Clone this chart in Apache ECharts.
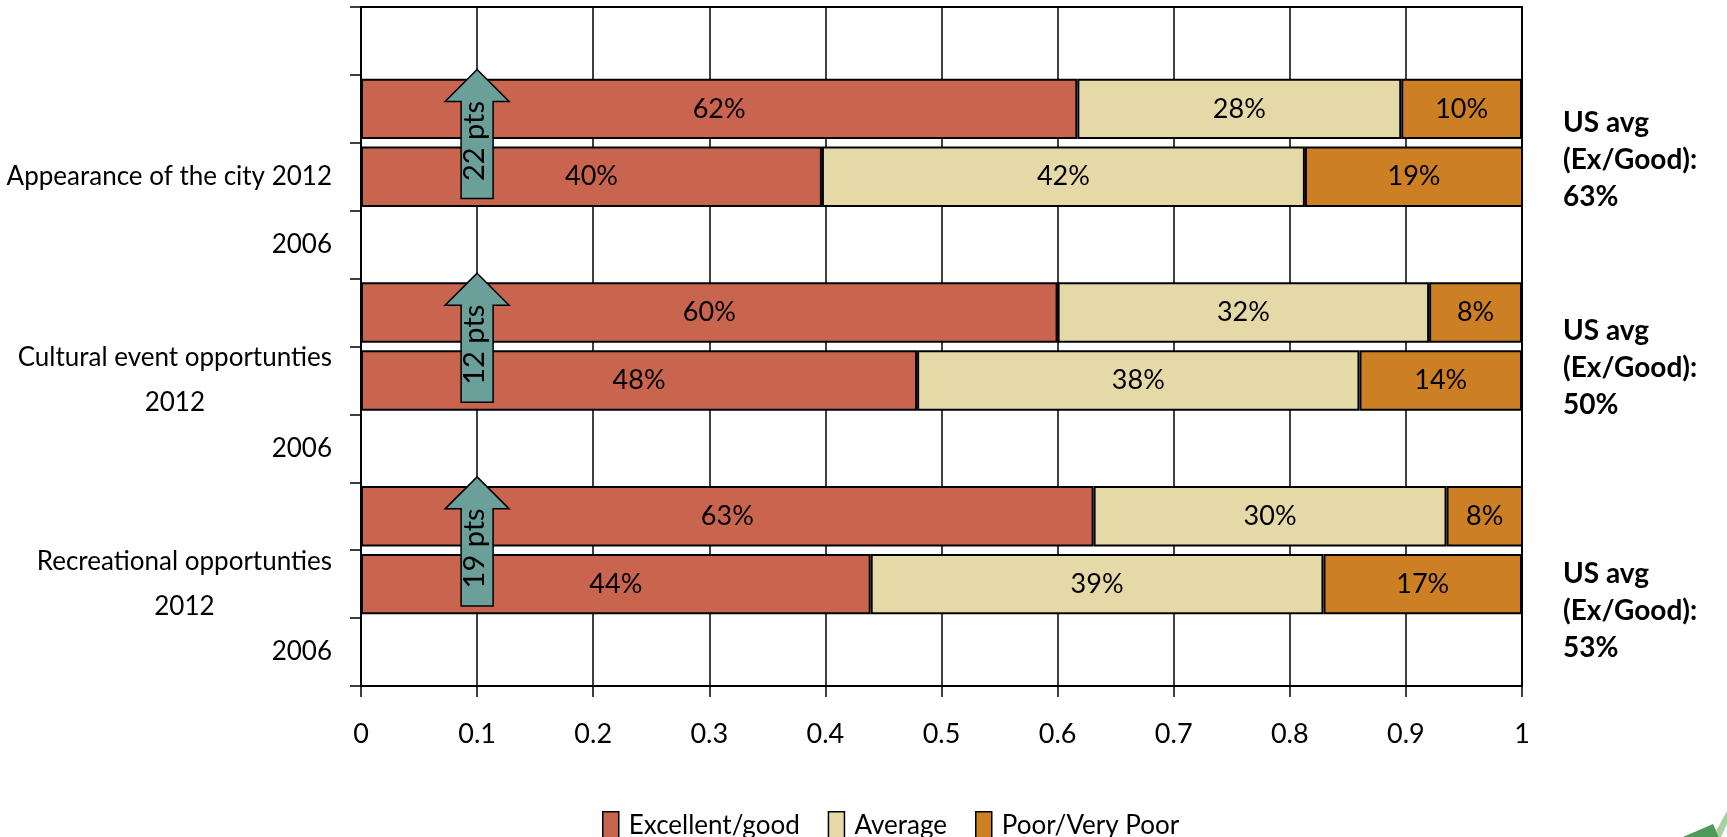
<!DOCTYPE html>
<html><head><meta charset="utf-8">
<script src="https://cdn.jsdelivr.net/npm/echarts@6/dist/echarts.min.js"></script>
<style>html,body{margin:0;padding:0;background:#fff}#c{width:1727px;height:837px}</style>
</head><body><div id="c"></div>
<script>
// Category slots on the vertical axis (top to bottom)
const categories = ['', '', 'Appearance of the city 2012', '2006', '', 'Cultural event opportunties\n2012', '2006', '', 'Recreational opportunties\n2012', '2006'];
// Which slot each bar sits in
const barSlots = [1, 2, 4, 5, 7, 8];
// Series values (share of responses)
const excellentGood = [0.617, 0.397, 0.600, 0.479, 0.631, 0.439];
const average       = [0.279, 0.416, 0.320, 0.381, 0.304, 0.390];
const poorVeryPoor  = [0.104, 0.188, 0.080, 0.140, 0.076, 0.171];
const seriesNames = ['Excellent/good', 'Average', 'Poor/Very Poor'];
// X axis ticks
const xTicks = [0, 0.1, 0.2, 0.3, 0.4, 0.5, 0.6, 0.7, 0.8, 0.9, 1];
// Change arrows: x position, slot of 2012 bar, slot of 2006 bar, label
const arrowX = [0.1, 0.1, 0.1];
const arrowTopSlot = [1, 4, 7];
const arrowBottomSlot = [2, 5, 8];
const arrowLabels = ['22 pts', '12 pts', '19 pts'];
// US averages
const usAvg = ['63%', '50%', '53%'];

const FONT = 'Lato, "Open Sans", sans-serif';
const colors = ['#C9644E', '#E6D9A8', '#CD8023'];

function toSlots(vals) {
  const arr = categories.map(() => '-');
  barSlots.forEach((s, i) => { arr[s] = vals[i]; });
  return arr;
}

const chart = echarts.init(document.getElementById('c'), null, {renderer: 'canvas'});
const barData = [excellentGood, average, poorVeryPoor];

const series = barData.map((vals, k) => ({
  name: seriesNames[k],
  type: 'bar',
  stack: 'total',
  barCategoryGap: '11%',
  data: toSlots(vals),
  itemStyle: {color: colors[k], borderColor: '#000', borderWidth: 2},
  label: {
    show: true, position: 'inside', color: '#000',
    fontFamily: FONT, fontSize: 27,
    formatter: p => Math.round(p.value * 100) + '%'
  },
  emphasis: {disabled: true}
}));

series.push({
  type: 'custom',
  name: 'arrows',
  coordinateSystem: 'cartesian2d',
  z: 10,
  clip: false,
  data: arrowX.map((x, i) => [x, arrowTopSlot[i], arrowBottomSlot[i]]),
  renderItem: function (params, api) {
    const x = api.value(0);
    const top = api.coord([x, api.value(1)]);
    const bot = api.coord([x, api.value(2)]);
    const band = api.size([0, 1])[1];
    const cx = top[0];
    const yTip = top[1] - 0.58 * band;
    const yBot = bot[1] + 0.32 * band;
    const sw = 16, hw = 32, hh = 32;
    const pts = [[cx, yTip], [cx + hw, yTip + hh], [cx + sw, yTip + hh], [cx + sw, yBot],
                 [cx - sw, yBot], [cx - sw, yTip + hh], [cx - hw, yTip + hh]];
    return {
      type: 'group',
      children: [
        {type: 'polygon', shape: {points: pts}, style: {fill: '#6B9F99', stroke: '#000', lineWidth: 1.5}},
        {type: 'text', x: cx - 2, y: (yTip + yBot) / 2 + 7, rotation: Math.PI / 2,
         style: {text: arrowLabels[params.dataIndex], fill: '#000', font: '29px ' + FONT,
                 align: 'center', verticalAlign: 'middle'}}
      ]
    };
  }
});

const graphics = usAvg.map((v, i) => ({
  type: 'text',
  left: 1563,
  top: [104, 312, 555][i],
  style: {
    text: 'US avg\n(Ex/Good):\n' + v,
    fill: '#000',
    font: 'bold 28px ' + FONT,
    lineHeight: 37
  }
}));
graphics.push({type: 'polygon', shape: {points: [[1683, 837], [1713, 824], [1719, 837]]}, style: {fill: '#4E9A5A'}});
graphics.push({type: 'polygon', shape: {points: [[1716, 831], [1727, 811], [1727, 824], [1721, 837], [1719, 837]]}, style: {fill: '#A9D0A0'}});

chart.setOption({
  animation: false,
  backgroundColor: '#fff',
  grid: {left: 361, right: 205, top: 7, bottom: 151, show: true, borderColor: '#000', borderWidth: 2,
         containLabel: false, outerBoundsMode: 'none'},
  legend: {
    data: seriesNames,
    left: 597, top: 806,
    icon: 'rect', itemWidth: 16, itemHeight: 28, itemGap: 28,
    textStyle: {fontFamily: FONT, fontSize: 26, color: '#000', padding: [0, 0, 0, 5]},
    itemStyle: {borderColor: '#000', borderWidth: 1.5}
  },
  xAxis: {
    type: 'value', min: 0, max: 1, interval: 0.1,
    axisLine: {show: true, lineStyle: {color: '#000', width: 2}},
    axisTick: {show: true, length: 11, lineStyle: {color: '#000', width: 1.5}},
    splitLine: {show: true, lineStyle: {color: '#000', width: 1.5}},
    axisLabel: {
      color: '#000', fontFamily: FONT, fontSize: 27, margin: 35,
      formatter: v => { const t = xTicks.find(x => Math.abs(x - v) < 1e-9); return String(t !== undefined ? t : +v.toFixed(1)); }
    }
  },
  yAxis: {
    type: 'category', inverse: true, data: categories,
    axisLine: {show: true, lineStyle: {color: '#000', width: 2}},
    axisTick: {show: true, length: 11, lineStyle: {color: '#000', width: 1.5}},
    splitLine: {show: false},
    axisLabel: {
      interval: 0, margin: 29, color: '#000', fontFamily: FONT, fontSize: 26, lineHeight: 45,
      formatter: v => v === '' ? '' : v.split('\n').map(s => '{c|' + s + '}').join('\n'),
      rich: {c: {align: 'center', fontFamily: FONT, fontSize: 26, lineHeight: 45, color: '#000'}}
    }
  },
  tooltip: {show: false},
  graphic: graphics,
  series: series
});
</script>
</body></html>
